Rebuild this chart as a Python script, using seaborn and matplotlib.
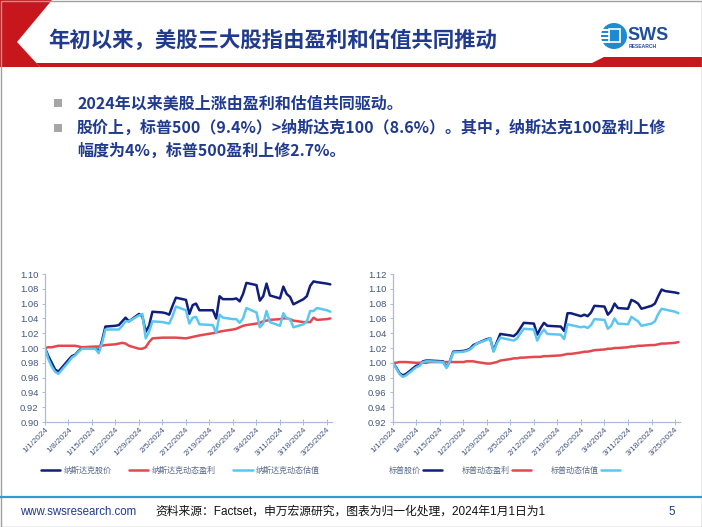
import matplotlib
matplotlib.use('Agg')
import matplotlib.pyplot as plt
import matplotlib.patches as mpatches
from matplotlib.lines import Line2D
import numpy as np
import pandas as pd
import seaborn as sns

# trading days, normalised to 1 on 2024-01-01
dates = ['2024-01-01', '2024-01-02', '2024-01-03', '2024-01-04', '2024-01-05',
         '2024-01-08', '2024-01-09', '2024-01-10', '2024-01-11', '2024-01-12',
         '2024-01-16', '2024-01-17', '2024-01-18', '2024-01-19',
         '2024-01-22', '2024-01-23', '2024-01-24', '2024-01-25', '2024-01-26',
         '2024-01-29', '2024-01-30', '2024-01-31', '2024-02-01', '2024-02-02',
         '2024-02-05', '2024-02-06', '2024-02-07', '2024-02-08', '2024-02-09',
         '2024-02-12', '2024-02-13', '2024-02-14', '2024-02-15', '2024-02-16',
         '2024-02-20', '2024-02-21', '2024-02-22', '2024-02-23',
         '2024-02-26', '2024-02-27', '2024-02-28', '2024-02-29', '2024-03-01',
         '2024-03-04', '2024-03-05', '2024-03-06', '2024-03-07', '2024-03-08',
         '2024-03-11', '2024-03-12', '2024-03-13', '2024-03-14', '2024-03-15',
         '2024-03-18', '2024-03-19', '2024-03-20', '2024-03-21', '2024-03-22',
         '2024-03-25', '2024-03-26']

ndx_price = [1.000, 0.989, 0.980, 0.971, 0.968,
             0.984, 0.989, 0.991, 0.996, 1.000,
             1.000, 0.995, 1.010, 1.029,
             1.030, 1.031, 1.036, 1.041, 1.036,
             1.046, 1.043, 1.022, 1.030, 1.049,
             1.048, 1.047, 1.045, 1.057, 1.068,
             1.065, 1.046, 1.058, 1.060, 1.051,
             1.051, 1.040, 1.070, 1.066,
             1.066, 1.067, 1.063, 1.073, 1.088,
             1.085, 1.064, 1.070, 1.087, 1.071,
             1.067, 1.083, 1.073, 1.069, 1.059,
             1.066, 1.070, 1.084, 1.090, 1.089,
             1.087, 1.086]
ndx_eps = [1.000, 1.001, 1.001, 1.002, 1.003,
           1.003, 1.003, 1.003, 1.002, 1.001,
           1.002, 1.002, 1.003, 1.004,
           1.005, 1.006, 1.007, 1.006, 1.003,
           0.999, 0.999, 1.001, 1.008, 1.013,
           1.014, 1.014, 1.014, 1.014, 1.014,
           1.013, 1.014, 1.015, 1.016, 1.017,
           1.020, 1.021, 1.022, 1.023,
           1.025, 1.026, 1.028, 1.030, 1.031,
           1.033, 1.034, 1.036, 1.037, 1.038,
           1.039, 1.040, 1.040, 1.039, 1.037,
           1.035, 1.035, 1.035, 1.041, 1.038,
           1.039, 1.040]
ndx_pe = [1.000, 0.985, 0.975, 0.968, 0.965,
          0.981, 0.987, 0.990, 0.995, 0.999,
          0.999, 0.993, 1.007, 1.025,
          1.025, 1.025, 1.030, 1.036, 1.036,
          1.044, 1.046, 1.013, 1.022, 1.036,
          1.035, 1.034, 1.033, 1.043, 1.056,
          1.051, 1.033, 1.041, 1.042, 1.032,
          1.031, 1.020, 1.045, 1.041,
          1.039, 1.039, 1.034, 1.040, 1.054,
          1.048, 1.028, 1.033, 1.050, 1.035,
          1.030, 1.047, 1.040, 1.039, 1.028,
          1.032, 1.036, 1.050, 1.050, 1.054,
          1.051, 1.049]

spx_price = [1.000, 0.994, 0.986, 0.983, 0.985,
             0.996, 0.997, 1.002, 1.003, 1.003,
             1.002, 0.994, 1.002, 1.015,
             1.016, 1.017, 1.019, 1.024, 1.026,
             1.032, 1.033, 1.016, 1.028, 1.039,
             1.037, 1.036, 1.040, 1.047, 1.054,
             1.053, 1.038, 1.047, 1.054, 1.050,
             1.049, 1.043, 1.067, 1.067,
             1.063, 1.065, 1.063, 1.068, 1.077,
             1.076, 1.065, 1.070, 1.080, 1.074,
             1.073, 1.085, 1.083, 1.080, 1.073,
             1.077, 1.080, 1.090, 1.099, 1.097,
             1.095, 1.094]
spx_eps = [1.000, 1.000, 1.001, 1.001, 1.001,
           1.000, 1.000, 1.000, 1.000, 1.001,
           1.001, 1.001, 1.001, 1.001,
           1.001, 1.002, 1.002, 1.002, 1.001,
           0.999, 0.999, 1.000, 1.001, 1.003,
           1.005, 1.006, 1.006, 1.007, 1.007,
           1.008, 1.008, 1.008, 1.009, 1.009,
           1.010, 1.011, 1.012, 1.012,
           1.014, 1.015, 1.015, 1.016, 1.017,
           1.018, 1.019, 1.019, 1.020, 1.020,
           1.021, 1.022, 1.022, 1.023, 1.023,
           1.024, 1.024, 1.025, 1.026, 1.026,
           1.027, 1.028]
spx_pe = [1.000, 0.993, 0.985, 0.981, 0.983,
          0.994, 0.996, 1.001, 1.002, 1.002,
          1.001, 0.993, 1.002, 1.014,
          1.015, 1.016, 1.018, 1.022, 1.026,
          1.031, 1.033, 1.015, 1.026, 1.034,
          1.031, 1.030, 1.033, 1.040, 1.046,
          1.045, 1.030, 1.039, 1.045, 1.039,
          1.038, 1.032, 1.052, 1.051,
          1.048, 1.049, 1.047, 1.051, 1.059,
          1.058, 1.046, 1.050, 1.060, 1.053,
          1.052, 1.062, 1.059, 1.056, 1.050,
          1.053, 1.056, 1.066, 1.073, 1.072,
          1.069, 1.067]

ndx_labels = ['纳斯达克股价', '纳斯达克动态盈利', '纳斯达克动态估值']
spx_labels = ['标普股价', '标普动态盈利', '标普动态估值']

title = '年初以来，美股三大股指由盈利和估值共同推动'
bullets = ['2024年以来美股上涨由盈利和估值共同驱动。',
           '股价上，标普500（9.4%）>纳斯达克100（8.6%）。其中，纳斯达克100盈利上修',
           '幅度为4%，标普500盈利上修2.7%。']
source = '资料来源：Factset，申万宏源研究，图表为归一化处理，2024年1月1日为1'

NAVY = '#0F1F7A'
RED = '#E4484E'
SKY = '#5BC7F1'
AXIS = '#A9BCD8'
TICK = '#44557F'
TXT = '#1F3A8F'
CJK = ['Noto Sans CJK SC', 'DejaVu Sans']
MIXED = ['Liberation Sans', 'Noto Sans CJK SC', 'DejaVu Sans']

sns.set_theme(style='white')
plt.rcParams['font.family'] = MIXED

fig = plt.figure(figsize=(7.02, 5.27), dpi=100)
fig.patch.set_facecolor('white')

# slide decoration, drawn in pixel coordinates
bg = fig.add_axes([0, 0, 1, 1])
bg.set_xlim(0, 702)
bg.set_ylim(527, 0)
bg.axis('off')
bg.add_patch(mpatches.Polygon([(0, 0), (52, 0), (17, 42), (40, 67), (0, 67)],
                              closed=True, color='#C8161D', lw=0))
bg.add_patch(mpatches.Polygon([(36, 63), (592, 63), (604, 57), (702, 57),
                               (702, 67), (40, 67)],
                              closed=True, color='#C8161D', lw=0))
bg.add_patch(mpatches.Rectangle((0.5, 0.5), 701, 526, fill=False,
                                ec='#A0A0A0', lw=1))
bg.text(48, 40, title, fontsize=15.4, fontweight='bold', color=TXT,
        family=CJK, va='center')

# logo
bg.add_patch(mpatches.Circle((614, 36), 13, color='#1E8AD2', lw=0))
for yy in (29, 33, 37, 41):
    bg.add_patch(mpatches.Rectangle((601, yy), 9, 1.6, color='white', lw=0))
bg.add_patch(mpatches.Rectangle((609, 29), 11, 13, fill=False, ec='white', lw=1.2))
bg.text(627, 35, 'SWS', fontsize=13, fontweight='bold', color='#1F4E9A',
        va='center', ha='left')
bg.text(629, 46, 'RESEARCH', fontsize=3.6, fontweight='bold', color='#1F4E9A',
        va='center', ha='left')

# bullets
for (yy, txt, mark) in [(103, bullets[0], True), (128, bullets[1], True),
                        (151, bullets[2], False)]:
    if mark:
        bg.add_patch(mpatches.Rectangle((54, yy - 4.5), 8, 8, color='#A6A6A6', lw=0))
    bg.text(77, yy, txt, fontsize=11.5, fontweight='bold', color=TXT,
            family=CJK, va='center')

# footer
bg.plot([0, 702], [497, 497], color='#2E9BD6', lw=1.6)
bg.text(20, 512, 'www.swsresearch.com', fontsize=8.3, color=TXT, va='center')
bg.text(155, 512, source, fontsize=8.5, color='#111111', family=MIXED, va='center')
bg.text(668, 512, '5', fontsize=8.3, color=TXT, va='center')

weekly = pd.date_range('2024-01-01', '2024-03-25', freq='7D')
xlim = (pd.Timestamp('2024-01-01'), pd.Timestamp('2024-03-26 12:00'))


def draw_panel(rect, series, labels, yticks, legend_kws):
    ax = fig.add_axes(rect)
    ax.set_facecolor('none')
    long_df = pd.concat([pd.DataFrame({'date': pd.to_datetime(dates),
                                       'value': vals, 'series': lab})
                         for lab, vals in zip(labels, series)])
    palette = dict(zip(labels, [NAVY, RED, SKY]))
    sns.lineplot(data=long_df, x='date', y='value', hue='series',
                 hue_order=labels, palette=palette, linewidth=1.8,
                 ax=ax, legend=False)
    ax.set_xlim(*xlim)
    ax.set_ylim(yticks[0], yticks[-1])
    ax.set_yticks(yticks)
    ax.set_yticklabels([f'{t:.2f}' for t in yticks])
    ax.set_xticks(weekly)
    ax.set_xticklabels([f'{d.month}/{d.day}/{d.year}' for d in weekly],
                       rotation=45, ha='right', rotation_mode='anchor')
    ax.set_xlabel('')
    ax.set_ylabel('')
    for side in ('top', 'right'):
        ax.spines[side].set_visible(False)
    for side in ('left', 'bottom'):
        ax.spines[side].set_color(AXIS)
        ax.spines[side].set_linewidth(0.9)
    ax.tick_params(axis='x', bottom=True, direction='inout', length=4,
                   width=0.7, color=AXIS, labelsize=6.0, labelcolor=TICK, pad=1)
    ax.tick_params(axis='y', left=True, direction='out', length=2.5,
                   width=0.7, color=AXIS, labelsize=6.8, labelcolor=TICK, pad=2)
    ax.grid(False)
    handles = [Line2D([], [], color=c, lw=1.8) for c in (NAVY, RED, SKY)]
    leg = ax.legend(handles, labels, frameon=False, ncol=3,
                    prop={'family': CJK, 'size': 5.8}, **legend_kws)
    for t in leg.get_texts():
        t.set_color('#5A6A8C')
    return ax


draw_panel([45 / 702, 105 / 527, 287 / 702, 148 / 527],
           [ndx_price, ndx_eps, ndx_pe], ndx_labels,
           np.round(np.arange(0.90, 1.1001, 0.02), 2),
           dict(loc='center left', bbox_to_anchor=(-0.04, -0.325),
                handlelength=2.4, handletextpad=0.4, columnspacing=2.2))
draw_panel([392.7 / 702, 105 / 527, 287.4 / 702, 148 / 527],
           [spx_price, spx_eps, spx_pe], spx_labels,
           np.round(np.arange(0.92, 1.1201, 0.02), 2),
           dict(loc='center left', bbox_to_anchor=(-0.04, -0.325),
                handlelength=2.4, handletextpad=0.3, columnspacing=2.4,
                markerfirst=False))

fig.savefig('out.png', dpi=100, facecolor='white')
